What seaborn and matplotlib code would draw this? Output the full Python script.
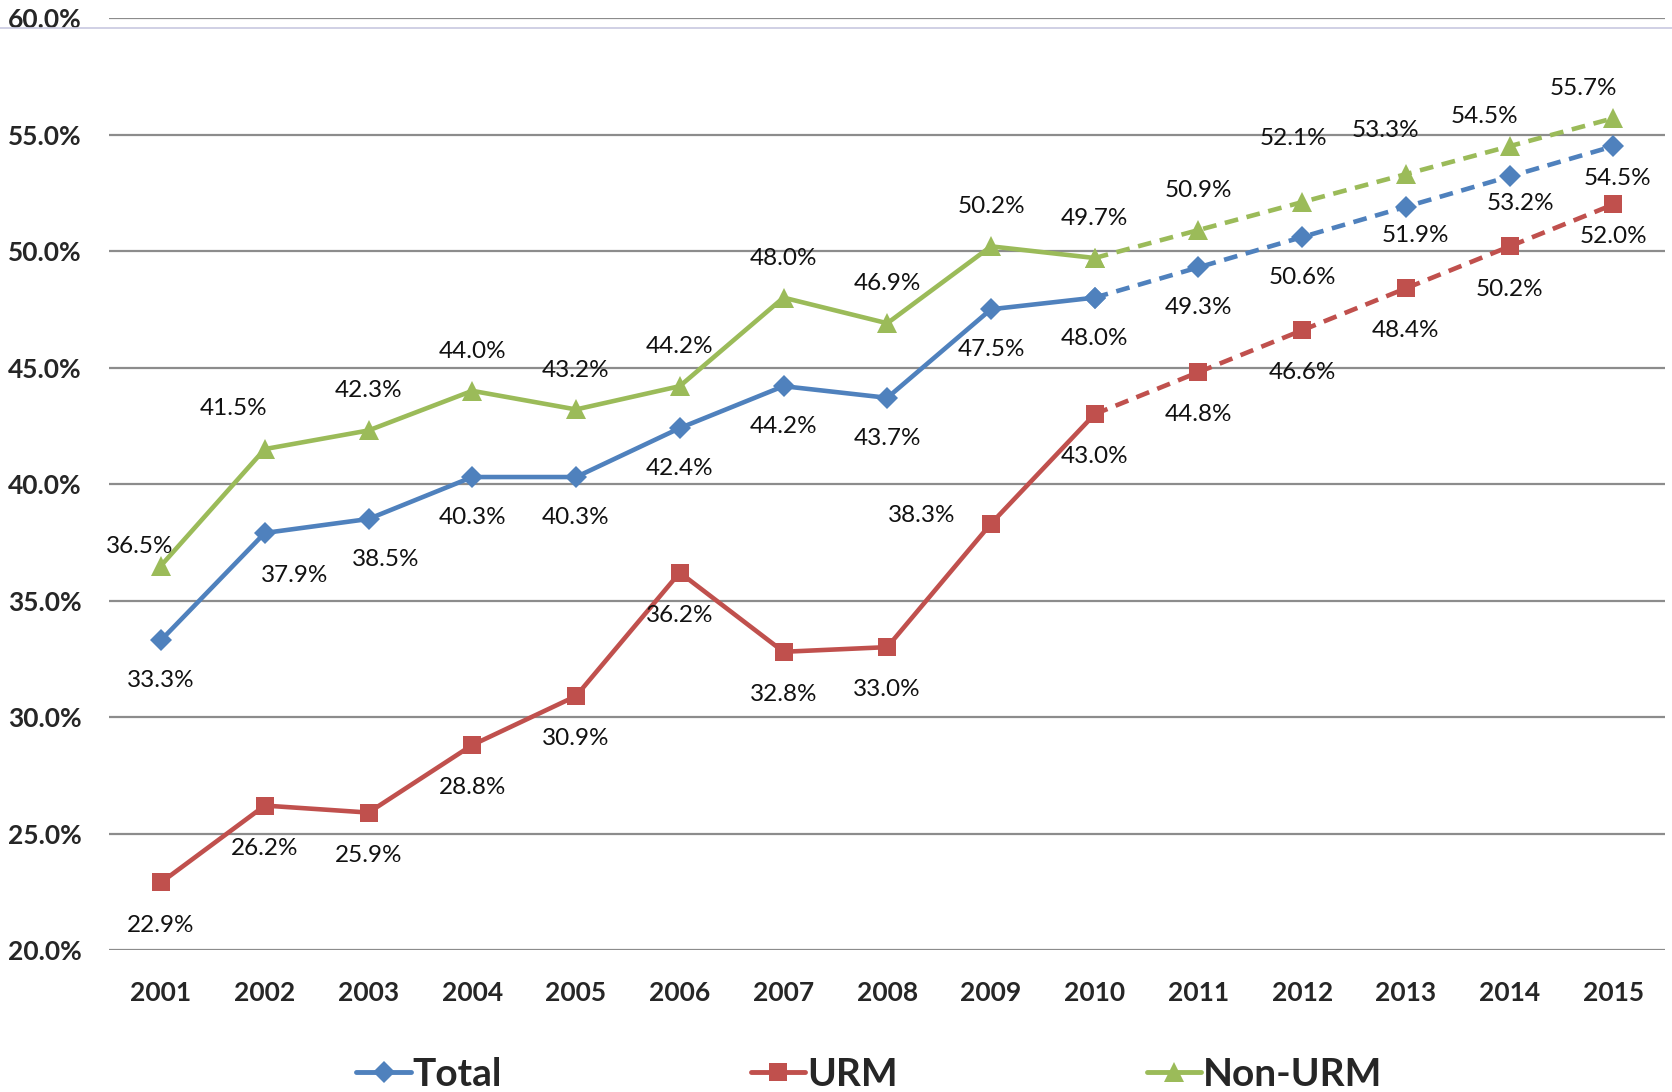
import numpy as np
import pandas as pd
import seaborn as sns
import matplotlib.pyplot as plt
from matplotlib.lines import Line2D

years = list(range(2001, 2016))
total = [33.3, 37.9, 38.5, 40.3, 40.3, 42.4, 44.2, 43.7, 47.5, 48.0, 49.3, 50.6, 51.9, 53.2, 54.5]
urm = [22.9, 26.2, 25.9, 28.8, 30.9, 36.2, 32.8, 33.0, 38.3, 43.0, 44.8, 46.6, 48.4, 50.2, 52.0]
non_urm = [36.5, 41.5, 42.3, 44.0, 43.2, 44.2, 48.0, 46.9, 50.2, 49.7, 50.9, 52.1, 53.3, 54.5, 55.7]
series_names = ["Total", "URM", "Non-URM"]
last_actual = 2010

colors = {"Total": "#4F81BD", "URM": "#C0504D", "Non-URM": "#9BBB59"}
markers = {"Total": "D", "URM": "s", "Non-URM": "^"}
msizes = {"Total": 11.5, "URM": 13, "Non-URM": 14.5}

# label offsets (px, image coords, y down): default per series + tweaks
lab_default = {"Total": (0, 38), "URM": (0, 40), "Non-URM": (0, -37)}
lab_tweak = {
    "Non-URM": {2001: (-20, -18), 2002: (-29, -38), 2012: (-8, -60), 2013: (-19, -41),
                2014: (-24, -28), 2015: (-28, -28)},
    "Total": {2002: (28, 40), 2003: (16, 38), 2013: (9, 27), 2014: (10, 25), 2015: (4, 30)},
    "URM": {2009: (-65, -8), 2015: (0, 30)},
}

df = pd.DataFrame({"year": years * 3,
                   "value": total + urm + non_urm,
                   "series": np.repeat(series_names, len(years))})

sns.set_theme(style="white")
plt.rcParams['font.family'] = ['Lato', 'DejaVu Sans']

fig = plt.figure(figsize=(16.72, 10.92), dpi=100)
ax = fig.add_axes([0.0653, 0.130, 0.9307, 0.8535])

sc = 1672 / 1568
for s in series_names:
    d = df[df.series == s]
    solid = d[d.year <= last_actual]
    dashed = d[d.year >= last_actual]
    sns.lineplot(data=solid, x="year", y="value", ax=ax, color=colors[s], lw=3.3,
                 marker=markers[s], markersize=msizes[s], markeredgewidth=0)
    sns.lineplot(data=dashed, x="year", y="value", ax=ax, color=colors[s], lw=3.3,
                 marker=markers[s], markersize=msizes[s], markeredgewidth=0)
    ax.lines[-1].set_dashes((3.0, 1.9))
    for _, r in d.iterrows():
        dx, dy = lab_tweak.get(s, {}).get(r.year, lab_default[s])
        ax.annotate(f"{r.value:.1f}%", (r.year, r.value), xytext=(dx * sc, -dy * sc),
                    textcoords="offset pixels", ha="center", va="center",
                    fontsize=17.5, color="#111111")

ax.set_xlim(2000.5, 2015.5)
ax.set_ylim(20, 60)
ax.set_yticks(np.arange(20, 61, 5))
ax.set_yticklabels([f"{v:.1f}%" for v in np.arange(20, 61, 5)], fontsize=19, fontweight="bold")
ax.set_xticks(years)
ax.set_xticklabels([str(y) for y in years], fontsize=19, fontweight="bold")
ax.tick_params(axis="y", pad=20, length=0)
ax.tick_params(axis="x", pad=22, length=0)
ax.grid(axis="y", color="#8c8c8c", lw=1.6)
ax.grid(axis="x", visible=False)
for sp in ax.spines.values():
    sp.set_visible(False)
ax.set_xlabel("")
ax.set_ylabel("")

# faint line near the top edge
fig.add_artist(Line2D([0, 1], [1 - 28 / 1092, 1 - 28 / 1092], color="#c8c8e0", lw=1.2))

handles = [Line2D([], [], color=colors[s], lw=3.5, marker=markers[s],
                  markersize=msizes[s], markeredgewidth=0) for s in series_names]
fig.legend(handles, series_names, loc="center", bbox_to_anchor=(0.52, 0.016),
           ncol=3, frameon=False, handlelength=1.4, handletextpad=0.05,
           columnspacing=6.4, prop={"family": "Lato", "weight": "bold", "size": 28})

fig.savefig("out.png", dpi=100)
